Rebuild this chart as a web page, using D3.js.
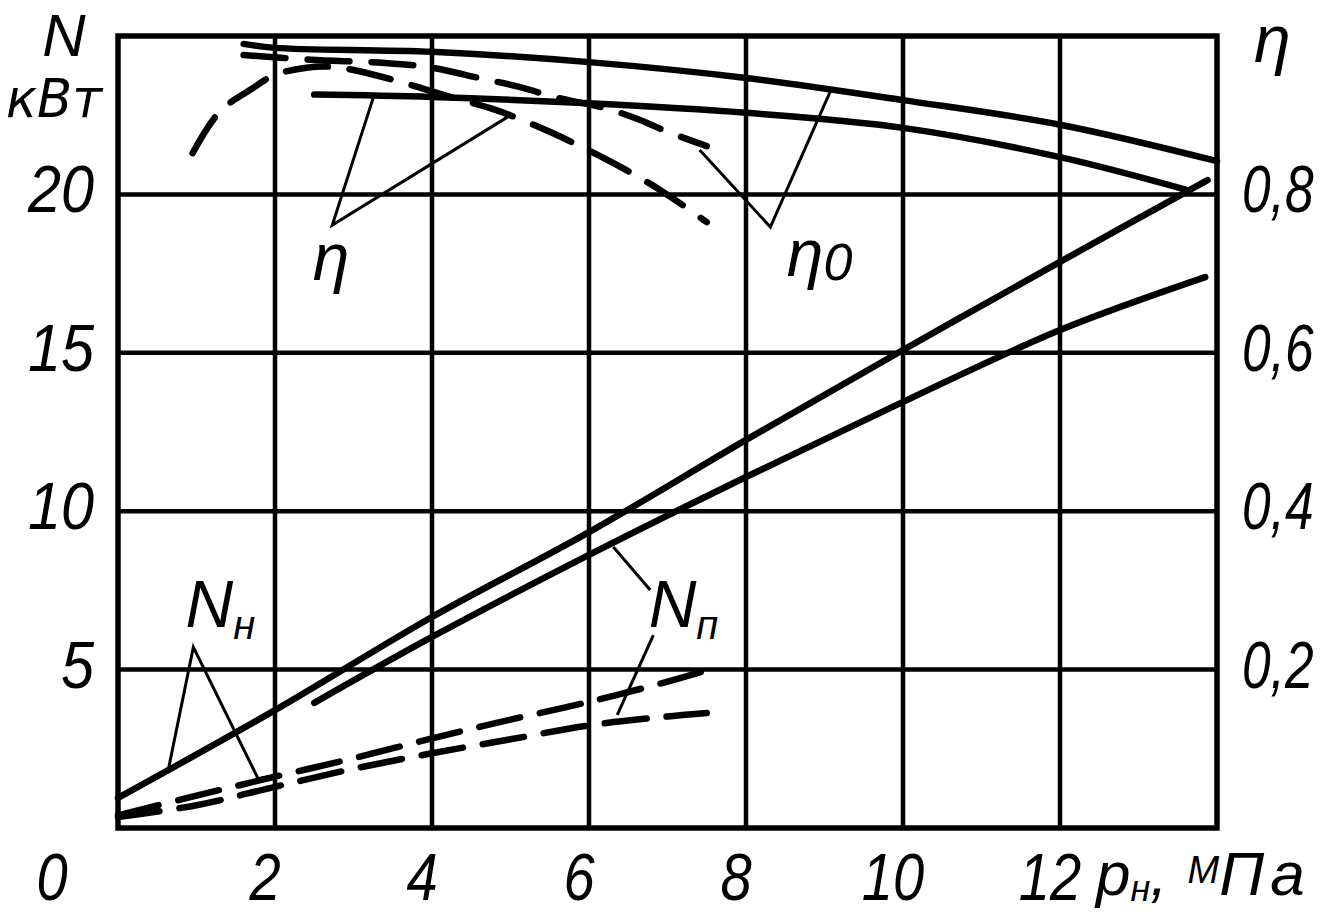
<!DOCTYPE html>
<html>
<head>
<meta charset="utf-8">
<script src="https://cdn.jsdelivr.net/npm/d3@7"></script>
<style>
  html, body { margin: 0; padding: 0; background: #fff; }
  svg { display: block; }
  text { font-family: "Liberation Sans", "DejaVu Sans", sans-serif; font-style: italic; fill: #000; }
</style>
</head>
<body>
<svg id="chart" width="1324" height="916"></svg>
<script>
// ---- Axis ticks ----
const xTicks = [0, 2, 4, 6, 8, 10, 12];
const xTickLabels = ["0", "2", "4", "6", "8", "10", "12"];
const nTicks = [5, 10, 15, 20];
const nTickLabels = ["5", "10", "15", "20"];
const etaTicks = [0.2, 0.4, 0.6, 0.8];
const etaTickLabels = ["0,2", "0,4", "0,6", "0,8"];

// ---- Series: efficiency (right axis, η) ----
// η0 solid
const etaOSolidP = [1.6, 2, 4, 6, 8, 10, 12, 14];
const etaOSolid  = [0.990, 0.985, 0.980, 0.967, 0.947, 0.919, 0.888, 0.842];
// η solid
const etaSolidP = [2.5, 4, 6, 8, 10, 12, 13.6];
const etaSolid  = [0.926, 0.923, 0.915, 0.903, 0.884, 0.847, 0.806];
// η0 dashed
const etaODashP = [1.6, 2.45, 3.4, 4.0, 4.6, 5.1, 5.6, 6.2, 6.65, 7.0, 7.5];
const etaODash  = [0.976, 0.970, 0.966, 0.960, 0.947, 0.936, 0.922, 0.909, 0.894, 0.879, 0.861];
// η dashed
const etaDashP = [0.95, 1.3, 1.7, 2.0, 2.4, 2.75, 3.0, 3.6, 4.2, 4.8, 5.5, 6.3, 6.9, 7.5];
const etaDash  = [0.852, 0.905, 0.933, 0.951, 0.960, 0.961, 0.957, 0.942, 0.924, 0.907, 0.879, 0.840, 0.806, 0.765];

// ---- Series: power (left axis, N, kW) ----
// Nн solid
const nHSolidP = [0, 2, 4, 6, 8, 10, 12, 13.88];
const nHSolid  = [0.95, 3.72, 6.66, 9.34, 12.25, 15.09, 17.87, 20.45];
// Nп solid
const nPSolidP = [2.5, 4, 6, 8, 10, 12, 13.85];
const nPSolid  = [3.95, 6.03, 8.62, 11.08, 13.45, 15.72, 17.39];
// Nн dashed
const nHDashP = [0, 1, 2, 3, 4, 5, 6, 7, 7.6];
const nHDash  = [0.4, 1.02, 1.62, 2.2, 2.83, 3.42, 3.98, 4.62, 5.05];
// Nп dashed
const nPDashP = [0, 1, 2, 3, 4, 5, 6, 7, 7.5];
const nPDash  = [0.35, 0.72, 1.3, 1.87, 2.36, 2.8, 3.24, 3.52, 3.63];

// ---- Annotation leaders (data units: MPa, kW) ----
const leaderEta   = [[3.25, 23.04], [2.73, 19.03], [4.96, 22.44]];
const leaderEtaO  = [[7.41, 21.40], [8.31, 18.97], [9.07, 23.23]];
const leaderNH    = [[0.64, 1.83], [0.96, 5.71], [1.78, 1.58]];
const leaderNHTick = [[1.76, 1.55], [2.0, 1.66]];
const leaderNP1   = [[6.78, 7.51], [6.31, 8.87]];
const leaderNP2   = [[6.82, 6.09], [6.36, 3.57]];

const W = 1324, H = 916;
const svg = d3.select("#chart");
svg.append("rect").attr("width", W).attr("height", H).attr("fill", "#fff");

const x = d3.scaleLinear().domain([0, 14]).range([118, 1217]);
const y = d3.scaleLinear().domain([0, 25]).range([828, 36]);
const yEta = d3.scaleLinear().domain([0, 1]).range([828, 36]);

// grid
const g = svg.append("g");
g.selectAll("line.vx").data(xTicks.filter(d => d > 0)).enter().append("line")
  .attr("x1", d => x(d)).attr("x2", d => x(d))
  .attr("y1", y(0)).attr("y2", y(25))
  .attr("stroke", "#000").attr("stroke-width", 4.5);
g.selectAll("line.hy").data(nTicks).enter().append("line")
  .attr("y1", d => y(d)).attr("y2", d => y(d))
  .attr("x1", x(0)).attr("x2", x(14))
  .attr("stroke", "#000").attr("stroke-width", 4.5);
g.append("rect")
  .attr("x", x(0)).attr("y", y(25))
  .attr("width", x(14) - x(0)).attr("height", y(0) - y(25))
  .attr("fill", "none").attr("stroke", "#000").attr("stroke-width", 5.5);

// curves
const lineN = d3.line().x(d => x(d[0])).y(d => y(d[1])).curve(d3.curveCatmullRom.alpha(0.5));
const lineE = d3.line().x(d => x(d[0])).y(d => yEta(d[1])).curve(d3.curveCatmullRom.alpha(0.5));
const zip = (a, b) => a.map((v, i) => [v, b[i]]);

const curves = [
  { d: zip(etaOSolidP, etaOSolid), gen: lineE, dash: null },
  { d: zip(etaSolidP, etaSolid), gen: lineE, dash: null },
  { d: zip(etaODashP, etaODash), gen: lineE, dash: "42,22" },
  { d: zip(etaDashP, etaDash), gen: lineE, dash: "42,22" },
  { d: zip(nHSolidP, nHSolid), gen: lineN, dash: null },
  { d: zip(nPSolidP, nPSolid), gen: lineN, dash: null },
  { d: zip(nHDashP, nHDash), gen: lineN, dash: "42,20" },
  { d: zip(nPDashP, nPDash), gen: lineN, dash: "42,20" }
];
curves.forEach(c => {
  svg.append("path").attr("d", c.gen(c.d))
    .attr("fill", "none").attr("stroke", "#000")
    .attr("stroke-width", 6.5)
    .attr("stroke-linecap", "round").attr("stroke-linejoin", "round")
    .attr("stroke-dasharray", c.dash);
});

// leaders
const lineL = d3.line().x(d => x(d[0])).y(d => y(d[1]));
[leaderEta, leaderEtaO, leaderNH, leaderNHTick, leaderNP1, leaderNP2].forEach(L => {
  svg.append("path").attr("d", lineL(L))
    .attr("fill", "none").attr("stroke", "#000").attr("stroke-width", 3)
    .attr("stroke-linejoin", "miter");
});

// text helper with horizontal condensing
const ttext = (px, py, str, size, anchor, sx) => svg.append("text")
  .attr("transform", `translate(${px},${py}) scale(${sx || 1},1)`)
  .attr("text-anchor", anchor || "start")
  .attr("font-size", size)
  .text(str);

// tick labels
const FS = 66;
xTicks.forEach((d, i) => ttext(i === 0 ? 52 : x(d) - 10, 900, xTickLabels[i], FS, "middle", 0.85));
nTicks.forEach((d, i) => ttext(94, y(d) + 18, nTickLabels[i], FS, "end", 0.9));
etaTicks.forEach((d, i) => ttext(1242, yEta(d) + 18, etaTickLabels[i], FS, "start", 0.78));

// axis titles
ttext(64, 56, "N", 60, "middle", 1);
ttext(6, 117, "кВт", 54, "start", 0.95)
  .style("font-family", "'DejaVu Sans', sans-serif").style("font-style", "oblique");
ttext(1254, 62, "η", 66, "start", 1);
const xt = svg.append("text").attr("x", 1096).attr("y", 895).attr("font-size", 62);
xt.append("tspan").text("p");
xt.append("tspan").attr("font-size", 36).attr("dy", 6).text("н");
xt.append("tspan").attr("dy", -6).text(",");
xt.append("tspan").attr("font-size", 38).attr("dy", -12).attr("dx", 20).text("М");
xt.append("tspan").attr("dy", 12).text("П");
xt.append("tspan").attr("dx", 6).text("а");

// curve labels
const lbl = (px, py, main, sub, subSize, subDy) => {
  const t = svg.append("text").attr("x", x(px)).attr("y", y(py)).attr("font-size", 66);
  t.append("tspan").text(main);
  if (sub) t.append("tspan").attr("font-size", subSize).attr("dy", subDy).text(sub);
};
lbl(2.48, 17.3, "η");
lbl(8.52, 17.42, "η", "0", 52, 4);
lbl(0.86, 6.34, "N", "н", 40, 12);
lbl(6.76, 6.34, "N", "п", 40, 12);
</script>
</body>
</html>
